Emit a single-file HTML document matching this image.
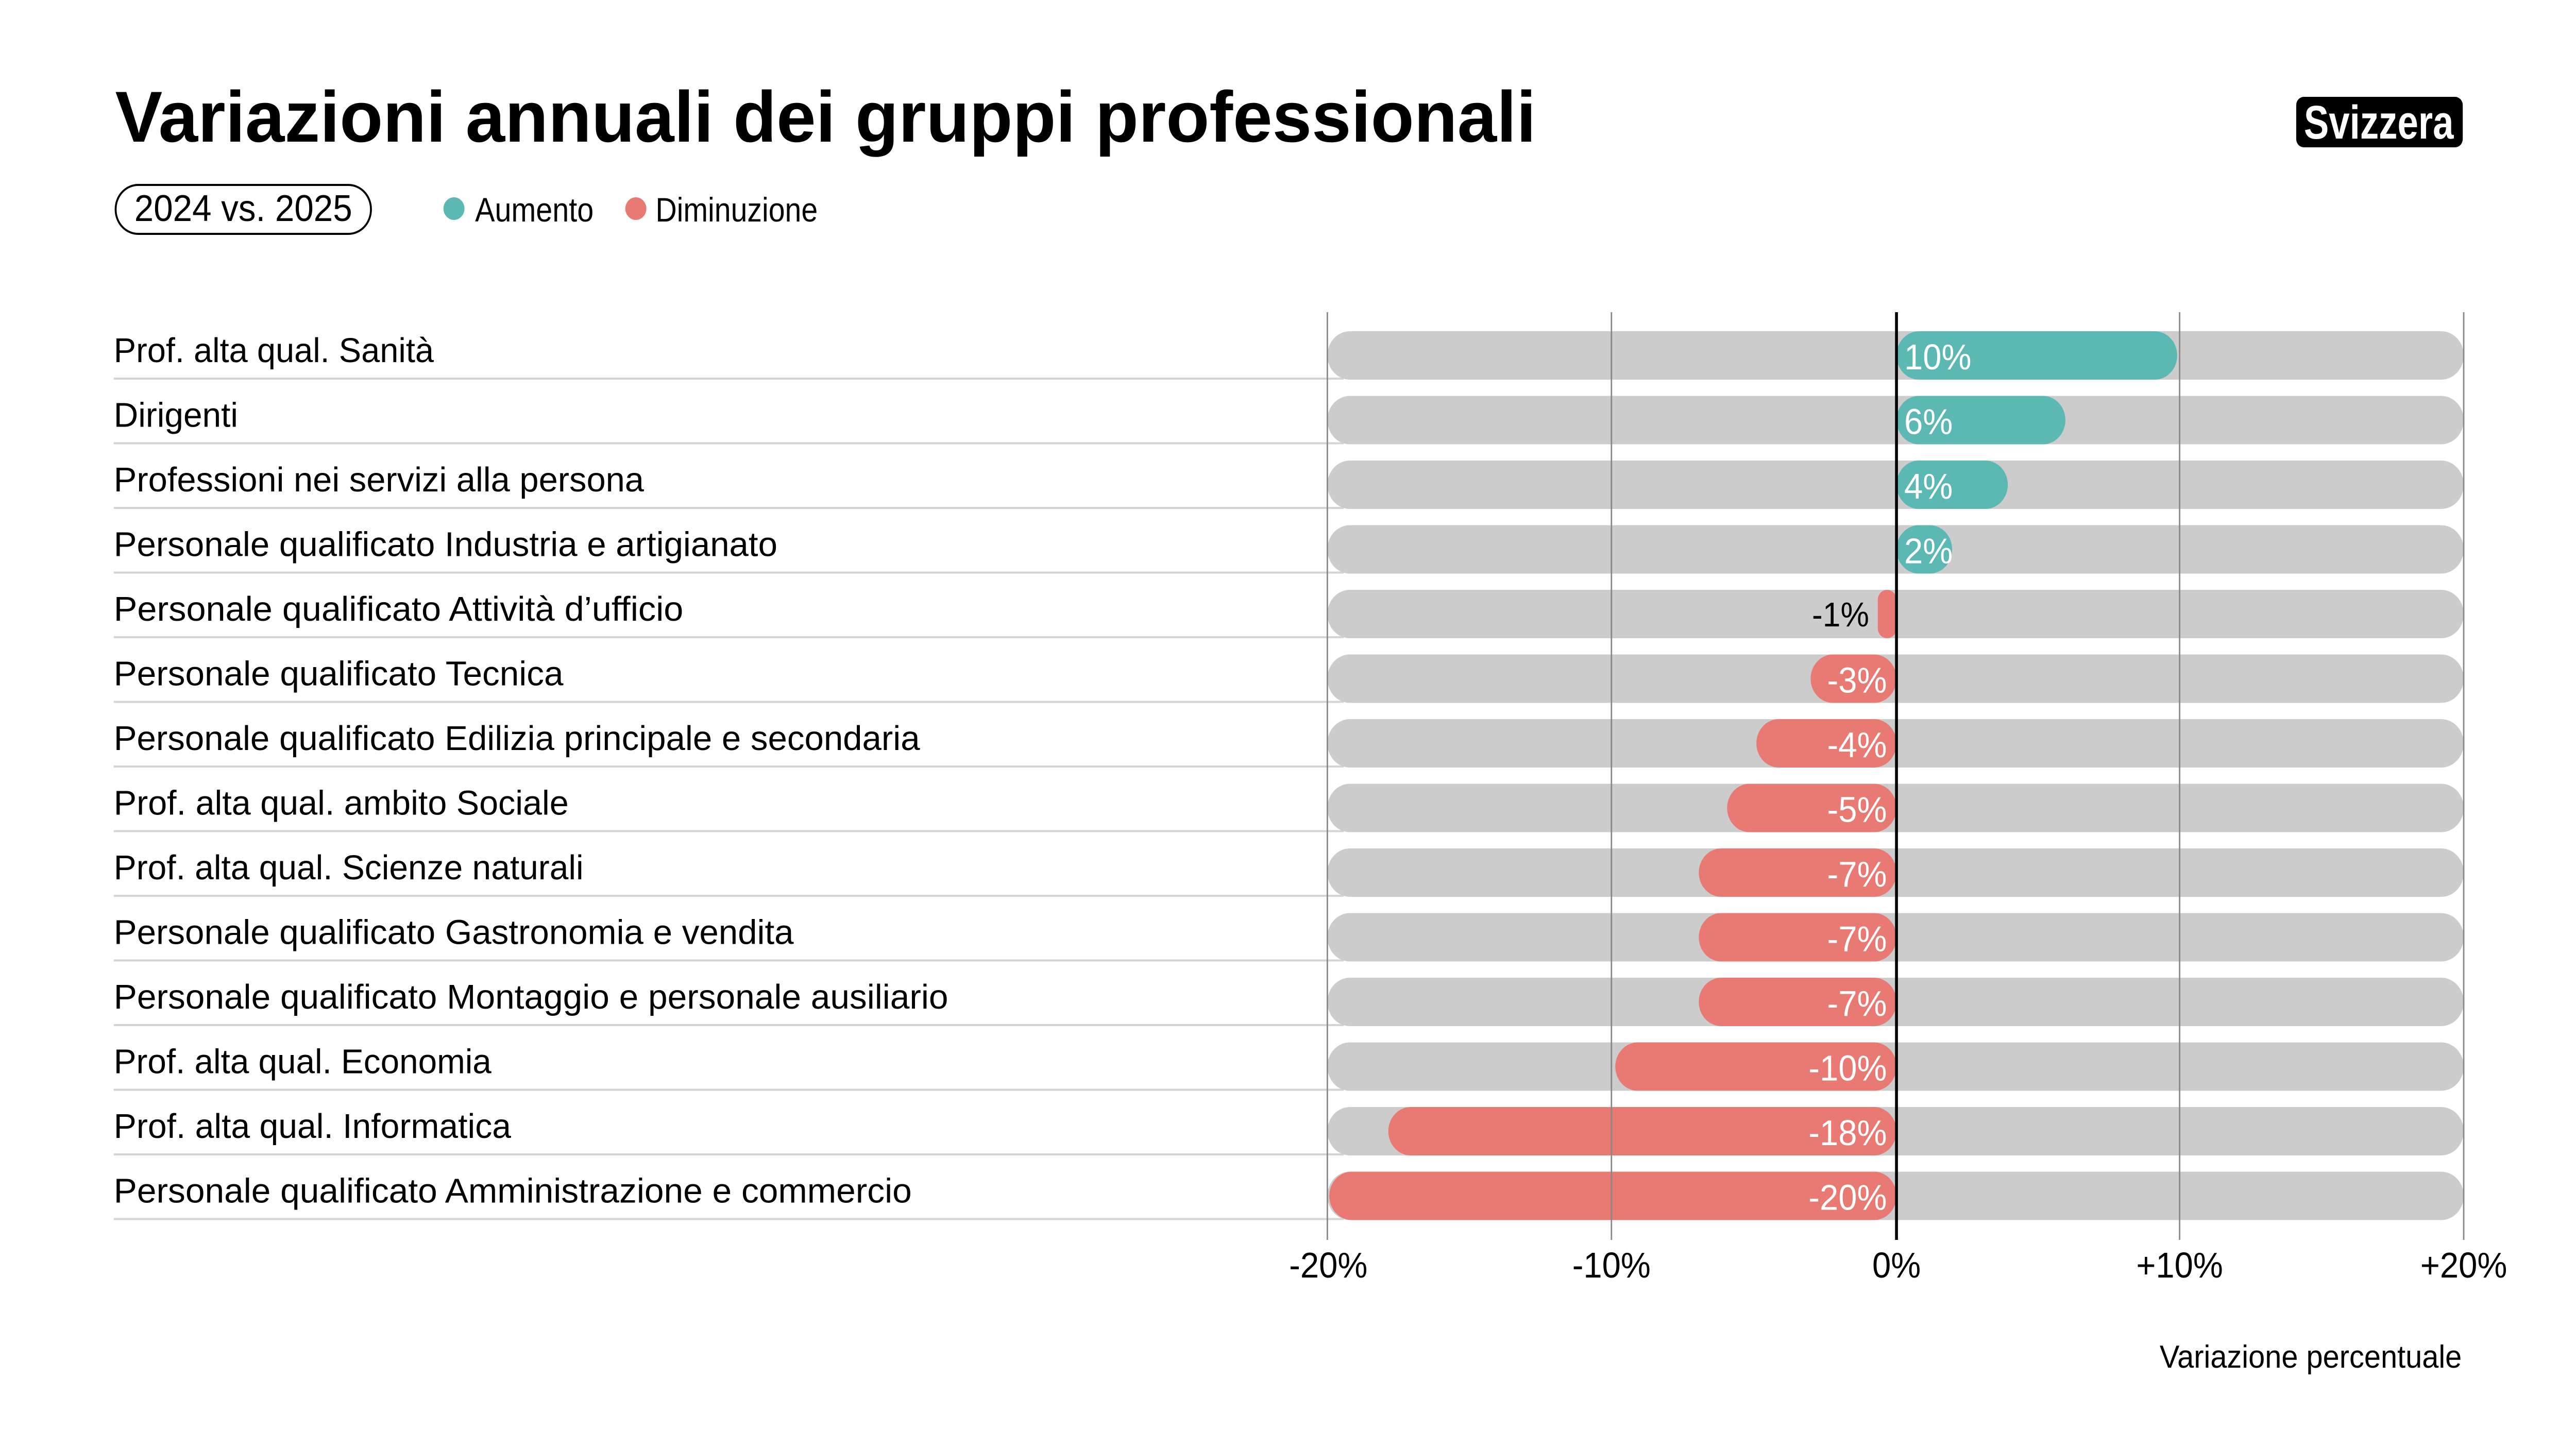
<!DOCTYPE html>
<html><head><meta charset="utf-8"><style>html,body{margin:0;padding:0;background:#fff;overflow:hidden}svg{display:block;width:100vw;height:100vh}</style></head>
<body>
<svg viewBox="0 0 5368 2776" preserveAspectRatio="none" xmlns="http://www.w3.org/2000/svg" font-family="Liberation Sans, sans-serif">
<rect width="5368" height="2776" fill="#fff"/>
<text x="240" y="275" font-size="140" font-weight="bold" textLength="2961" lengthAdjust="spacingAndGlyphs">Variazioni annuali dei gruppi professionali</text>
<rect x="4785" y="188" width="347" height="98" rx="16" fill="#000"/>
<text x="4801" y="269" font-size="92" font-weight="bold" fill="#fff" textLength="312" lengthAdjust="spacingAndGlyphs">Svizzera</text>
<rect x="241" y="359" width="532" height="95" rx="47" fill="none" stroke="#000" stroke-width="4"/>
<text x="280" y="429" font-size="72" textLength="454" lengthAdjust="spacingAndGlyphs">2024 vs. 2025</text>
<circle cx="946" cy="405" r="22" fill="#5cb8b2"/>
<text x="990" y="430" font-size="66" textLength="247" lengthAdjust="spacingAndGlyphs">Aumento</text>
<circle cx="1325" cy="405" r="22" fill="#e87a73"/>
<text x="1366" y="430" font-size="66" textLength="338" lengthAdjust="spacingAndGlyphs">Diminuzione</text>

<g font-size="67">
<g transform="translate(0,690)"><line x1="237" y1="45" x2="2800" y2="45" stroke="#d4d4d4" stroke-width="4"/><text x="237" y="13" textLength="667" lengthAdjust="spacingAndGlyphs">Prof. alta qual. Sanità</text><rect x="2766" y="-47" width="2368" height="94" rx="47" fill="#ccc"/><rect x="3952" y="-47" width="585" height="94" rx="47" fill="#5cb8b2"/><text x="3968" y="27" font-size="70" fill="#fff">10%</text></g>
<g transform="translate(0,815.5)"><line x1="237" y1="45" x2="2800" y2="45" stroke="#d4d4d4" stroke-width="4"/><text x="237" y="13" textLength="259" lengthAdjust="spacingAndGlyphs">Dirigenti</text><rect x="2766" y="-47" width="2368" height="94" rx="47" fill="#ccc"/><rect x="3952" y="-47" width="352" height="94" rx="47" fill="#5cb8b2"/><text x="3968" y="27" font-size="70" fill="#fff">6%</text></g>
<g transform="translate(0,941)"><line x1="237" y1="45" x2="2800" y2="45" stroke="#d4d4d4" stroke-width="4"/><text x="237" y="13" textLength="1105" lengthAdjust="spacingAndGlyphs">Professioni nei servizi alla persona</text><rect x="2766" y="-47" width="2368" height="94" rx="47" fill="#ccc"/><rect x="3952" y="-47" width="232" height="94" rx="47" fill="#5cb8b2"/><text x="3968" y="27" font-size="70" fill="#fff">4%</text></g>
<g transform="translate(0,1066.5)"><line x1="237" y1="45" x2="2800" y2="45" stroke="#d4d4d4" stroke-width="4"/><text x="237" y="13" textLength="1383" lengthAdjust="spacingAndGlyphs">Personale qualificato Industria e artigianato</text><rect x="2766" y="-47" width="2368" height="94" rx="47" fill="#ccc"/><rect x="3952" y="-47" width="116" height="94" rx="47" fill="#5cb8b2"/><text x="3968" y="27" font-size="70" fill="#fff">2%</text></g>
<g transform="translate(0,1192)"><line x1="237" y1="45" x2="2800" y2="45" stroke="#d4d4d4" stroke-width="4"/><text x="237" y="13" textLength="1187" lengthAdjust="spacingAndGlyphs">Personale qualificato Attività d’ufficio</text><rect x="2766" y="-47" width="2368" height="94" rx="47" fill="#ccc"/><rect x="3913" y="-47" width="39" height="94" rx="19.5" fill="#e87a73"/><text x="3895" y="24" font-size="67" text-anchor="end">-1%</text></g>
<g transform="translate(0,1317.5)"><line x1="237" y1="45" x2="2800" y2="45" stroke="#d4d4d4" stroke-width="4"/><text x="237" y="13" textLength="937" lengthAdjust="spacingAndGlyphs">Personale qualificato Tecnica</text><rect x="2766" y="-47" width="2368" height="94" rx="47" fill="#ccc"/><rect x="3773" y="-47" width="179" height="94" rx="47" fill="#e87a73"/><text x="3932" y="27" font-size="70" text-anchor="end" fill="#fff">-3%</text></g>
<g transform="translate(0,1443)"><line x1="237" y1="45" x2="2800" y2="45" stroke="#d4d4d4" stroke-width="4"/><text x="237" y="13" textLength="1680" lengthAdjust="spacingAndGlyphs">Personale qualificato Edilizia principale e secondaria</text><rect x="2766" y="-47" width="2368" height="94" rx="47" fill="#ccc"/><rect x="3660" y="-47" width="292" height="94" rx="47" fill="#e87a73"/><text x="3932" y="27" font-size="70" text-anchor="end" fill="#fff">-4%</text></g>
<g transform="translate(0,1568.5)"><line x1="237" y1="45" x2="2800" y2="45" stroke="#d4d4d4" stroke-width="4"/><text x="237" y="13" textLength="948" lengthAdjust="spacingAndGlyphs">Prof. alta qual. ambito Sociale</text><rect x="2766" y="-47" width="2368" height="94" rx="47" fill="#ccc"/><rect x="3599" y="-47" width="353" height="94" rx="47" fill="#e87a73"/><text x="3932" y="27" font-size="70" text-anchor="end" fill="#fff">-5%</text></g>
<g transform="translate(0,1694)"><line x1="237" y1="45" x2="2800" y2="45" stroke="#d4d4d4" stroke-width="4"/><text x="237" y="13" textLength="979" lengthAdjust="spacingAndGlyphs">Prof. alta qual. Scienze naturali</text><rect x="2766" y="-47" width="2368" height="94" rx="47" fill="#ccc"/><rect x="3540" y="-47" width="412" height="94" rx="47" fill="#e87a73"/><text x="3932" y="27" font-size="70" text-anchor="end" fill="#fff">-7%</text></g>
<g transform="translate(0,1819.5)"><line x1="237" y1="45" x2="2800" y2="45" stroke="#d4d4d4" stroke-width="4"/><text x="237" y="13" textLength="1417" lengthAdjust="spacingAndGlyphs">Personale qualificato Gastronomia e vendita</text><rect x="2766" y="-47" width="2368" height="94" rx="47" fill="#ccc"/><rect x="3540" y="-47" width="412" height="94" rx="47" fill="#e87a73"/><text x="3932" y="27" font-size="70" text-anchor="end" fill="#fff">-7%</text></g>
<g transform="translate(0,1945)"><line x1="237" y1="45" x2="2800" y2="45" stroke="#d4d4d4" stroke-width="4"/><text x="237" y="13" textLength="1739" lengthAdjust="spacingAndGlyphs">Personale qualificato Montaggio e personale ausiliario</text><rect x="2766" y="-47" width="2368" height="94" rx="47" fill="#ccc"/><rect x="3540" y="-47" width="412" height="94" rx="47" fill="#e87a73"/><text x="3932" y="27" font-size="70" text-anchor="end" fill="#fff">-7%</text></g>
<g transform="translate(0,2070.5)"><line x1="237" y1="45" x2="2800" y2="45" stroke="#d4d4d4" stroke-width="4"/><text x="237" y="13" textLength="787" lengthAdjust="spacingAndGlyphs">Prof. alta qual. Economia</text><rect x="2766" y="-47" width="2368" height="94" rx="47" fill="#ccc"/><rect x="3366" y="-47" width="586" height="94" rx="47" fill="#e87a73"/><text x="3932" y="27" font-size="70" text-anchor="end" fill="#fff">-10%</text></g>
<g transform="translate(0,2196)"><line x1="237" y1="45" x2="2800" y2="45" stroke="#d4d4d4" stroke-width="4"/><text x="237" y="13" textLength="828" lengthAdjust="spacingAndGlyphs">Prof. alta qual. Informatica</text><rect x="2766" y="-47" width="2368" height="94" rx="47" fill="#ccc"/><rect x="2893" y="-47" width="1059" height="94" rx="47" fill="#e87a73"/><text x="3932" y="27" font-size="70" text-anchor="end" fill="#fff">-18%</text></g>
<g transform="translate(0,2321.5)"><line x1="237" y1="45" x2="2800" y2="45" stroke="#d4d4d4" stroke-width="4"/><text x="237" y="13" textLength="1663" lengthAdjust="spacingAndGlyphs">Personale qualificato Amministrazione e commercio</text><rect x="2766" y="-47" width="2368" height="94" rx="47" fill="#ccc"/><rect x="2770" y="-47" width="1182" height="94" rx="47" fill="#e87a73"/><text x="3932" y="27" font-size="70" text-anchor="end" fill="#fff">-20%</text></g>
</g>

<g stroke="#888" stroke-width="3">
<line x1="2766" y1="606" x2="2766" y2="2407"/><line x1="3358" y1="606" x2="3358" y2="2407"/><line x1="4542" y1="606" x2="4542" y2="2407"/><line x1="5134" y1="606" x2="5134" y2="2407"/>
</g>
<line x1="3952" y1="606" x2="3952" y2="2407" stroke="#000" stroke-width="6"/>
<g font-size="70" text-anchor="middle">
<text x="2768" y="2480">-20%</text><text x="3358" y="2480">-10%</text><text x="3952" y="2480">0%</text><text x="4542" y="2480">+10%</text><text x="5134" y="2480">+20%</text>
</g>
<text x="5130" y="2655" font-size="62" text-anchor="end">Variazione percentuale</text>
</svg>
</body></html>
